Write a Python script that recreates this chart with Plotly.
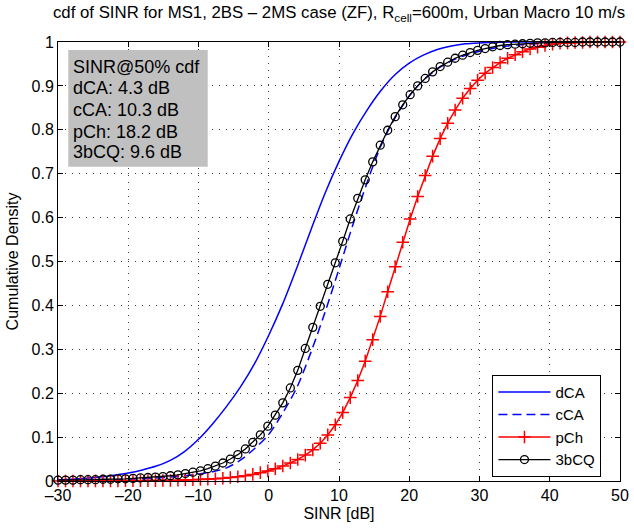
import plotly.graph_objects as go

# ---------------- data ----------------
# x positions of the marker-sampled curves (pCh, 3bCQ), in dB
x_marks = [-30.00, -28.93, -27.87, -26.80, -25.73, -24.67, -23.60, -22.53, -21.47, -20.40,
           -19.33, -18.27, -17.20, -16.13, -15.07, -14.00, -12.93, -11.87, -10.80, -9.73,
           -8.67, -7.60, -6.53, -5.47, -4.40, -3.33, -2.27, -1.20, -0.13, 0.93,
           2.00, 3.07, 4.13, 5.20, 6.27, 7.33, 8.40, 9.47, 10.53, 11.60,
           12.67, 13.73, 14.80, 15.87, 16.93, 18.00, 19.07, 20.13, 21.20, 22.27,
           23.33, 24.40, 25.47, 26.53, 27.60, 28.67, 29.73, 30.80, 31.87, 32.93,
           34.00, 35.07, 36.13, 37.20, 38.27, 39.33, 40.40, 41.47, 42.53, 43.60,
           44.67, 45.73, 46.80, 47.87, 48.93, 50.00]

cdf_3bcq = [0.002, 0.002, 0.002, 0.003, 0.003, 0.003, 0.004, 0.004, 0.005, 0.005,
            0.006, 0.007, 0.008, 0.009, 0.010, 0.012, 0.014, 0.017, 0.020, 0.023,
            0.028, 0.034, 0.041, 0.050, 0.060, 0.073, 0.088, 0.105, 0.125, 0.150,
            0.178, 0.212, 0.252, 0.302, 0.350, 0.398, 0.448, 0.497, 0.546, 0.597,
            0.644, 0.686, 0.727, 0.765, 0.799, 0.830, 0.857, 0.880, 0.900, 0.917,
            0.932, 0.944, 0.954, 0.963, 0.970, 0.976, 0.981, 0.985, 0.989, 0.992,
            0.994, 0.995, 0.996, 0.997, 0.998, 0.998, 0.999, 0.999, 0.999, 0.999,
            1.0, 1.0, 1.0, 1.0, 1.0, 1.0]

cdf_pch = [0.0001, 0.0001, 0.0001, 0.0001, 0.0001, 0.0002, 0.0002, 0.0002, 0.0003, 0.0004,
           0.0005, 0.0006, 0.0007, 0.0009, 0.0011, 0.0014, 0.0017, 0.0022, 0.0027, 0.0033,
           0.0041, 0.0051, 0.0064, 0.0079, 0.0098, 0.012, 0.015, 0.019, 0.023, 0.028,
           0.034, 0.041, 0.049, 0.059, 0.071, 0.086, 0.105, 0.128, 0.156, 0.190,
           0.229, 0.273, 0.322, 0.375, 0.431, 0.488, 0.544, 0.597, 0.648, 0.696,
           0.740, 0.780, 0.815, 0.845, 0.872, 0.894, 0.913, 0.929, 0.942, 0.953,
           0.963, 0.971, 0.978, 0.984, 0.988, 0.992, 0.995, 0.997, 0.998, 0.999,
           0.999, 1.0, 1.0, 1.0, 1.0, 1.0]

# x positions of the unmarked curves (dCA, cCA), in dB
x_lines = [-30, -28, -26, -24, -22, -20, -18, -16, -14, -12,
           -10, -8, -6, -4, -2, 0, 2, 4, 6, 8,
           10, 12, 14, 16, 18, 20, 22, 24, 26, 28,
           30, 32, 34, 36, 38, 40, 42, 44, 46, 48, 50]

cdf_dca = [0.003, 0.004, 0.006, 0.009, 0.013, 0.018, 0.025, 0.034, 0.047, 0.067,
           0.095, 0.130, 0.170, 0.215, 0.268, 0.332, 0.404, 0.486, 0.572, 0.655,
           0.728, 0.792, 0.845, 0.890, 0.926, 0.952, 0.970, 0.983, 0.991, 0.996,
           0.998, 0.999, 1.0, 1.0, 1.0, 1.0, 1.0, 1.0, 1.0, 1.0, 1.0]

cdf_cca = [0.001, 0.001, 0.002, 0.002, 0.003, 0.004, 0.005, 0.007, 0.009, 0.012,
           0.016, 0.021, 0.030, 0.048, 0.074, 0.106, 0.155, 0.213, 0.293, 0.384,
           0.483, 0.585, 0.680, 0.765, 0.828, 0.877, 0.913, 0.939, 0.957, 0.970,
           0.979, 0.986, 0.991, 0.994, 0.996, 0.998, 0.999, 0.999, 1.0, 1.0, 1.0]

series_names = ["dCA", "cCA", "pCh", "3bCQ"]
median_sinr_db = [4.3, 10.3, 18.2, 9.6]

x_tick_vals = [-30, -20, -10, 0, 10, 20, 30, 40, 50]
x_tick_text = ["\u201330", "\u201320", "\u201310", "0", "10", "20", "30", "40", "50"]
y_tick_vals = [0, 0.1, 0.2, 0.3, 0.4, 0.5, 0.6, 0.7, 0.8, 0.9, 1]
y_tick_text = ["0", "0.1", "0.2", "0.3", "0.4", "0.5", "0.6", "0.7", "0.8", "0.9", "1"]

# ---------------- figure ----------------
FONT = "Liberation Sans, Arial, Helvetica, sans-serif"

fig = go.Figure()
fig.add_trace(go.Scatter(x=x_lines, y=cdf_dca, name=series_names[0], mode="lines",
                         line=dict(color="#0000ff", width=1.5, shape="spline", smoothing=0.8),
                         cliponaxis=False))
fig.add_trace(go.Scatter(x=x_lines, y=cdf_cca, name=series_names[1], mode="lines",
                         line=dict(color="#0000ff", width=1.5, dash="9px,5px",
                                   shape="spline", smoothing=0.8),
                         cliponaxis=False))
fig.add_trace(go.Scatter(x=x_marks, y=cdf_pch, name=series_names[2], mode="lines+markers",
                         line=dict(color="#ff0000", width=1.5),
                         marker=dict(symbol="cross-thin-open", size=9,
                                     line=dict(color="#ff0000", width=1.5), color="#ff0000"),
                         cliponaxis=False))
fig.add_trace(go.Scatter(x=x_marks, y=cdf_3bcq, name=series_names[3], mode="lines+markers",
                         line=dict(color="#000000", width=1.3),
                         marker=dict(symbol="circle-open", size=8,
                                     line=dict(color="#000000", width=1.3), color="#000000"),
                         cliponaxis=False))

axis_common = dict(
    showline=True, linecolor="black", linewidth=1, mirror="ticks",
    ticks="inside", ticklen=5, tickwidth=1, tickcolor="black",
    showgrid=True, gridcolor="#404040", gridwidth=1, griddash="1px,6px",
    zeroline=False, automargin=False,
    tickfont=dict(family=FONT, size=16, color="black"),
)

fig.update_xaxes(range=[-30, 50], tickvals=x_tick_vals, ticktext=x_tick_text,
                 title=dict(text="SINR [dB]", font=dict(family=FONT, size=16, color="black"),
                            standoff=4),
                 **axis_common)
fig.update_yaxes(range=[0, 1], tickvals=y_tick_vals, ticktext=y_tick_text,
                 title=dict(text="Cumulative Density", font=dict(family=FONT, size=16, color="black"),
                            standoff=8),
                 **axis_common)

# statistics box (gray background, five lines of text)
fig.add_shape(type="rect", xref="paper", yref="paper",
              x0=0.0183, x1=0.2664, y0=0.716, y1=0.9818,
              fillcolor="#c0c0c0", line=dict(width=0), layer="above")

box_lines = ["SINR@50% cdf"] + [f"{n}: {v} dB" for n, v in zip(series_names, median_sinr_db)]
box_line_y = [0.9437, 0.8945, 0.8450, 0.7957, 0.7501]
for txt, yy in zip(box_lines, box_line_y):
    fig.add_annotation(text=txt, xref="paper", yref="paper", x=0.0230, y=yy,
                       xanchor="left", yanchor="middle", showarrow=False,
                       font=dict(family=FONT, size=18, color="black"))

fig.update_layout(
    template="none",
    width=634, height=529,
    margin=dict(l=58, r=14, t=42, b=48, pad=0),
    paper_bgcolor="white", plot_bgcolor="white",
    font=dict(family=FONT, size=16, color="black"),
    title=dict(text="cdf of SINR for MS1, 2BS \u2013 2MS case (ZF), R<sub>cell</sub>=600m, Urban Macro 10 m/s",
               x=0.5, xref="paper", xanchor="center",
               y=0.977, yref="container", yanchor="middle",
               font=dict(family=FONT, size=16.8, color="black")),
    showlegend=True,
    legend=dict(x=0.967, y=0.0096, xanchor="right", yanchor="bottom",
                bgcolor="white", bordercolor="black", borderwidth=1,
                font=dict(family=FONT, size=15, color="black"),
                tracegroupgap=0, itemwidth=52),
)

fig.write_html("out.html",
               config={"displayModeBar": False},
               post_script="document.body.style.margin='0';document.body.style.padding='0';")
